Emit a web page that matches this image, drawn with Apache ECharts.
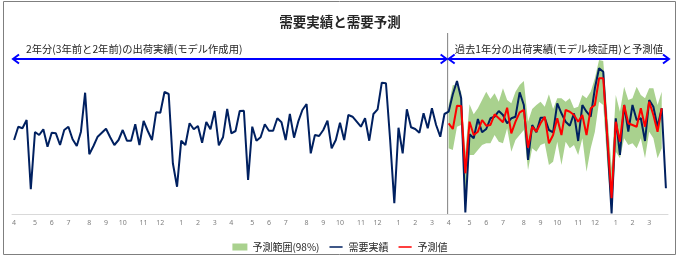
<!DOCTYPE html>
<html><head><meta charset="utf-8">
<script src="https://cdn.jsdelivr.net/npm/echarts@6/dist/echarts.min.js"></script>
<style>html,body{margin:0;padding:0;background:#fff}#c{width:680px;height:258px}</style>
</head><body><div id="c"></div>
<script>
// ---- data (weekly, 3 fiscal years Apr-Mar) ----
const monthTicks = ['4','5','6','7','8','9','10','11','12','1','2','3'];
const monthStartWeek = [0,5,9,13,18,22,26,31,35,40,44,48];
const weeksPerYear = 52;
const forecastStart = 104;

const actual = [
 740,873,857,940,247,820,790,847,673,813,807,690,840,873,747,680,823,1213,597,680,
 773,813,853,767,690,740,840,733,733,897,690,930,830,740,1017,1013,1220,1200,507,273,
 733,690,907,847,880,713,920,847,1030,687,767,1050,
 807,830,1030,1033,340,873,733,767,897,833,833,957,917,740,1000,763,923,1040,1100,607,
 790,780,840,933,657,740,913,740,990,973,923,873,957,733,1000,1047,1313,1307,740,107,
 863,607,1047,867,850,813,1007,857,1057,890,773,1000,
 1023,1197,1330,1157,15,797,757,950,817,850,957,973,1030,990,907,957,973,1217,1090,540,
 890,817,963,963,840,817,1107,1007,923,883,1007,730,1090,1023,973,1257,1457,1423,723,5,
 957,590,1090,823,1090,940,957,730,1140,1073,873,1057,257
];
const forecast = [
 907,850,1083,1080,407,923,790,823,940,883,890,997,957,917,1063,807,923,1017,1040,663,
 873,823,907,973,707,790,957,790,1040,1023,990,923,990,790,1057,1090,1357,1357,760,157,
 923,723,1090,907,890,873,1057,873,1123,990,823,1057
];
const bandUpper = [
 1090,1290,1283,1223,620,1097,997,1057,1140,1223,1150,1207,1123,1257,1140,1107,1223,1290,1330,923,
 1050,1090,1123,1073,1197,1050,1157,1157,1123,1157,1057,1073,1190,1157,1223,1357,1540,1530,990,460,
 1190,1023,1273,1140,1157,1273,1190,1157,1257,1257,1090,1223
];
const bandLower = [
 657,640,873,890,140,590,590,640,690,707,707,790,723,707,857,623,740,790,840,440,
 657,623,690,707,490,523,723,490,723,657,690,590,757,423,657,823,1123,1090,490,10,
 623,557,757,690,707,657,757,557,823,757,557,657
];

// ---- build categories / full-length arrays ----
const categories = actual.map((v, i) => {
  if (i >= weeksPerYear * 3) return '';
  const k = monthStartWeek.indexOf(i % weeksPerYear);
  return k >= 0 ? monthTicks[k] : '';
});
function full(arr) {
  return actual.map((v, i) => {
    const j = i - forecastStart;
    return (j >= 0 && j < arr.length) ? arr[j] : '-';
  });
}
const lowerFull = full(bandLower);
const spanFull = full(bandUpper.map((u, j) => u - bandLower[j]));
const forecastFull = full(forecast);

const GREEN = '#a9d18e', NAVY = '#002060', RED = '#ff0000', BLUE = '#0000ff';
// thin horizontal line icon (tiny corner dots keep the full icon box)
const LINE_ICON = 'path://M0,0H0.01V0.01H0Z M0,3.1H15V4.9H0Z M14.99,7.99H15V8H14.99Z';
const chart = echarts.init(document.getElementById('c'));
const option = {
  animation: false,
  backgroundColor: '#fff',
  title: {
    text: '需要実績と需要予測', left: 'center', top: 10,
    textStyle: { fontSize: 13.5, fontWeight: 'bold', color: '#262626', fontFamily: 'Noto Sans CJK JP' }
  },
  legend: {
    top: 237, left: 'center', itemWidth: 15, itemHeight: 7, itemGap: 10,
    textStyle: { fontSize: 10, color: '#262626', fontFamily: 'Noto Sans CJK JP' },
    data: [
      { name: '予測範囲(98%)', icon: 'rect' },
      { name: '需要実績', icon: LINE_ICON },
      { name: '予測値', icon: LINE_ICON }
    ]
  },
  grid: { left: 12, right: 12, top: 60, bottom: 44 },
  xAxis: {
    type: 'category', data: categories, boundaryGap: true,
    axisLine: { lineStyle: { color: '#d9d9d9', width: 1 } },
    axisTick: { show: false },
    axisLabel: { interval: 0, fontSize: 7, color: '#7f7f7f', margin: 5, fontFamily: 'Noto Sans' }
  },
  yAxis: { type: 'value', min: 0, max: 1540, show: false, splitLine: { show: false } },
  series: [
    { name: 'bandLower', type: 'line', data: lowerFull, stack: 'band', symbol: 'none',
      lineStyle: { opacity: 0 }, silent: true },
    { name: '予測範囲(98%)', type: 'line', data: spanFull, stack: 'band', symbol: 'none',
      itemStyle: { color: GREEN }, lineStyle: { opacity: 0 },
      areaStyle: { color: GREEN, opacity: 1 } },
    { name: '需要実績', type: 'line', data: actual, symbol: 'none',
      itemStyle: { color: NAVY }, lineStyle: { color: NAVY, width: 2 } },
    { name: '予測値', type: 'line', data: forecastFull, symbol: 'none',
      itemStyle: { color: RED }, lineStyle: { color: RED, width: 2 } }
  ]
};
chart.setOption(option);

// ---- annotations positioned from the axis scale ----
const px = i => chart.convertToPixel({ xAxisIndex: 0 }, i);
const py = v => chart.convertToPixel({ yAxisIndex: 0 }, v);
const n = actual.length;
const band = (px(n - 1) - px(0)) / (n - 1);
const xL = px(0) - band / 2, xR = px(n - 1) + band / 2;
const xS = px(forecastStart) - 1;
const yBase = py(0);
const yArrow = 59;
function chevron(x, dir) {
  return { type: 'polyline', shape: { points: [[x + dir * 6, yArrow - 4.5], [x, yArrow], [x + dir * 6, yArrow + 4.5]] },
    style: { stroke: BLUE, lineWidth: 2, fill: null } };
}
chart.setOption({
  graphic: [
    { type: 'rect', shape: { x: 3.5, y: 1.5, width: 672, height: 253 }, style: { fill: null, stroke: '#7f7f7f', lineWidth: 1 }, z: 0 },
    { type: 'line', shape: { x1: xS, y1: 33, x2: xS, y2: yBase }, style: { stroke: '#808080', lineWidth: 1 } },
    { type: 'line', shape: { x1: xL + 1, y1: yArrow, x2: xS - 1, y2: yArrow }, style: { stroke: BLUE, lineWidth: 2 } },
    chevron(xL + 1, 1), chevron(xS - 1, -1),
    { type: 'line', shape: { x1: xS + 1, y1: yArrow, x2: xR + 1, y2: yArrow }, style: { stroke: BLUE, lineWidth: 2 } },
    chevron(xS + 1, 1), chevron(xR + 1, -1),
    { type: 'text', x: 26, y: 49, style: { text: '2年分(3年前と2年前)の出荷実績(モデル作成用)', fontSize: 10.3, fill: '#262626', fontFamily: 'Noto Sans CJK JP', verticalAlign: 'middle' } },
    { type: 'text', x: xS + 7, y: 49, style: { text: '過去1年分の出荷実績(モデル検証用)と予測値', fontSize: 10.3, fill: '#262626', fontFamily: 'Noto Sans CJK JP', verticalAlign: 'middle' } }
  ]
});
</script>
</body></html>
